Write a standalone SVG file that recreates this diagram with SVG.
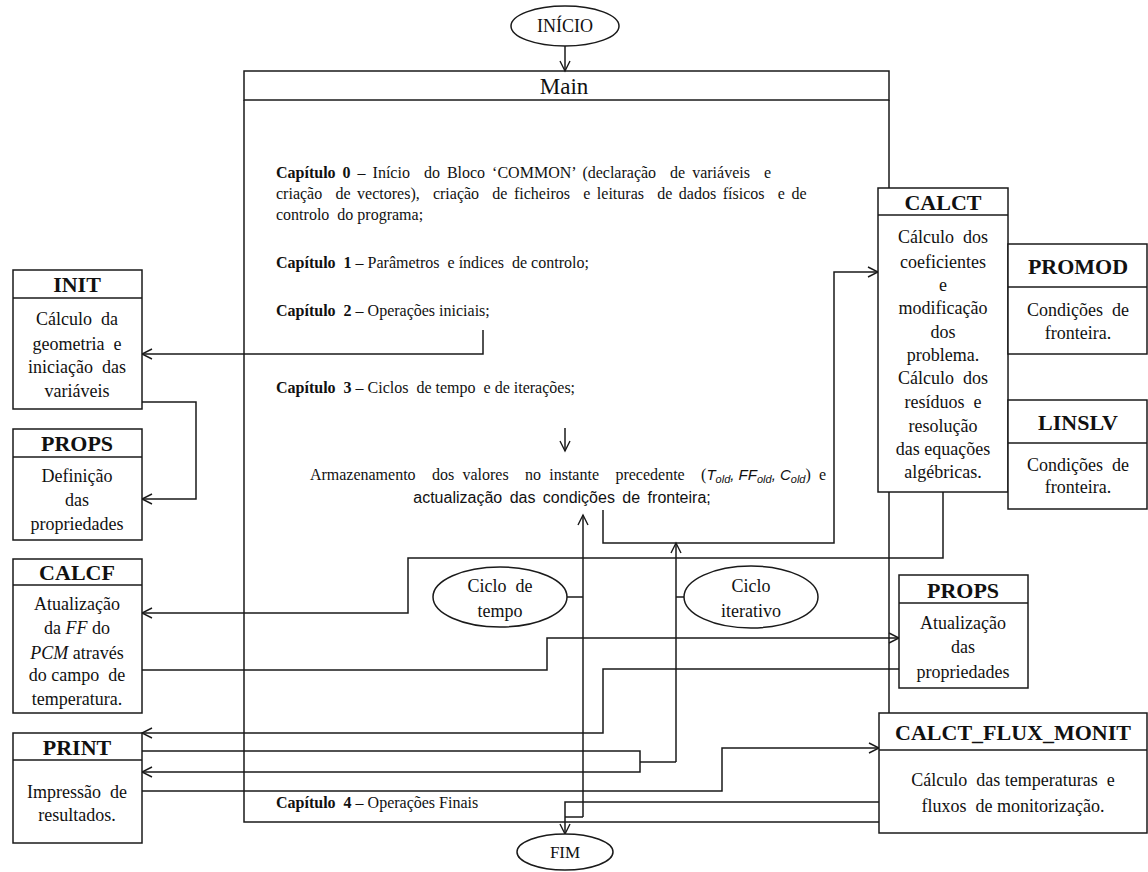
<svg xmlns="http://www.w3.org/2000/svg" width="1148" height="872" viewBox="0 0 1148 872">
<style>
.ln{fill:none;stroke:#1a1a1a;stroke-width:1.5}
.bx{fill:#fff;stroke:#1a1a1a;stroke-width:1.5}
.ti{font-family:"Liberation Serif","Times New Roman",serif;font-weight:bold;font-size:22px;fill:#111;text-anchor:middle}
.b{font-family:"Liberation Serif","Times New Roman",serif;font-size:18px;fill:#111;text-anchor:middle}
.m{font-family:"Liberation Serif","Times New Roman",serif;font-size:16px;fill:#111}
.s{font-family:"Liberation Sans",Arial,sans-serif;font-size:16px;fill:#111}
</style>
<defs>
<marker id="ar" markerWidth="12" markerHeight="12" refX="11" refY="6" orient="auto" markerUnits="userSpaceOnUse" overflow="visible">
<path d="M1,1 L11,6 L1,11" fill="none" stroke="#1a1a1a" stroke-width="1.4"/>
</marker>
</defs>
<rect width="1148" height="872" fill="#fff"/>

<g id="main">
<rect class="bx" x="244" y="71" width="645" height="29"/>
<text x="564" y="94" font-family="Liberation Serif, serif" font-size="23" fill="#111" text-anchor="middle">Main</text>
<path class="ln" d="M244,100 V822 H879 M889,100 V713"/>
<text class="m" x="276" y="178" xml:space="preserve" word-spacing="3"><tspan font-weight="bold">Capítulo 0</tspan> – Início  do Bloco ‘COMMON’ (declaração  de variáveis  e</text>
<text class="m" x="276" y="199" xml:space="preserve" word-spacing="2.6">criação  de vectores),  criação  de ficheiros  e leituras  de dados físicos  e de</text>
<text class="m" x="276" y="220" xml:space="preserve">controlo  do programa;</text>
<text class="m" x="276" y="268" xml:space="preserve"><tspan font-weight="bold">Capítulo  1</tspan> – Parâmetros  e índices  de controlo;</text>
<text class="m" x="276" y="316" xml:space="preserve"><tspan font-weight="bold">Capítulo  2</tspan> – Operações iniciais;</text>
<text class="m" x="276" y="393" xml:space="preserve"><tspan font-weight="bold">Capítulo  3</tspan> – Ciclos  de tempo  e de iterações;</text>
<text class="m" x="568" y="480" xml:space="preserve" font-size="17.5" word-spacing="4.2" text-anchor="middle">Armazenamento  dos valores  no instante  precedente  (<tspan font-family="Liberation Sans, sans-serif" font-style="italic" font-size="15" word-spacing="0">T<tspan font-size="11" dy="3">old</tspan><tspan dy="-3">, FF</tspan><tspan font-size="11" dy="3">old</tspan><tspan dy="-3">, C</tspan><tspan font-size="11" dy="3">old</tspan></tspan><tspan dy="-3">) e</tspan></text>
<text class="s" x="562" y="503" word-spacing="3" text-anchor="middle">actualização das condições de fronteira;</text>
<text class="m" x="276" y="808" xml:space="preserve"><tspan font-weight="bold">Capítulo  4</tspan> – Operações Finais</text>
</g>

<g id="connectors">
<path class="ln" d="M565,46 V71" marker-end="url(#ar)"/>
<path class="ln" d="M565,428 V451" marker-end="url(#ar)"/>
<path class="ln" d="M483,330 V354 H142" marker-end="url(#ar)"/>
<path class="ln" d="M142,402 H196 V499 H142" marker-end="url(#ar)"/>
<path class="ln" d="M603,510 V543 H834 V272 H878" marker-end="url(#ar)"/>
<path class="ln" d="M977,321 H1008" marker-end="url(#ar)"/>
<path class="ln" d="M980,428 H1010" marker-end="url(#ar)"/>
<path class="ln" d="M583,817 V515" marker-end="url(#ar)"/>
<path class="ln" d="M567,597 H583"/>
<path class="ln" d="M676,762 V543" marker-end="url(#ar)"/>
<path class="ln" d="M676,597 H684"/>
<path class="ln" d="M943,492 V558 H408 V613 H142" marker-end="url(#ar)"/>
<path class="ln" d="M142,670 H547 V638 H899" marker-end="url(#ar)"/>
<path class="ln" d="M899,669 H603 V733 H142" marker-end="url(#ar)"/>
<path class="ln" d="M142,751 H640 V772 H142" marker-end="url(#ar)"/>
<path class="ln" d="M676,762 H640"/>
<path class="ln" d="M142,791 H722 V748 H879" marker-end="url(#ar)"/>
<path class="ln" d="M879,802 H565 V834" marker-end="url(#ar)"/>
<path class="ln" d="M583,817 H565"/>
</g>

<g id="inicio">
<ellipse class="bx" cx="565" cy="26" rx="54" ry="20"/>
<text x="565" y="32" font-family="Liberation Serif, serif" font-size="18" fill="#111" text-anchor="middle" textLength="56" lengthAdjust="spacingAndGlyphs">INÍCIO</text>
</g>

<g id="fim">
<ellipse class="bx" cx="565" cy="852" rx="48" ry="18"/>
<text x="565" y="858" font-family="Liberation Serif, serif" font-size="17" fill="#111" text-anchor="middle">FIM</text>
</g>

<g id="init">
<rect class="bx" x="13" y="270" width="129" height="139"/>
<path class="ln" d="M13,298 H142"/>
<text class="ti" x="77" y="292">INIT</text>
<text class="b" x="77" y="325" xml:space="preserve">Cálculo  da</text>
<text class="b" x="77" y="350" xml:space="preserve">geometria  e</text>
<text class="b" x="77" y="373" xml:space="preserve">iniciação  das</text>
<text class="b" x="77" y="397">variáveis</text>
</g>

<g id="props-left">
<rect class="bx" x="13" y="429" width="129" height="111"/>
<path class="ln" d="M13,457 H142"/>
<text class="ti" x="77" y="451">PROPS</text>
<text class="b" x="77" y="482">Definição</text>
<text class="b" x="77" y="506">das</text>
<text class="b" x="77" y="530">propriedades</text>
</g>

<g id="calcf">
<rect class="bx" x="13" y="559" width="129" height="154"/>
<path class="ln" d="M13,585 H142" stroke-width="2.2"/>
<text class="ti" x="77" y="580">CALCF</text>
<text class="b" x="77" y="610">Atualização</text>
<text class="b" x="77" y="634">da <tspan font-style="italic">FF</tspan> do</text>
<text class="b" x="77" y="659"><tspan font-style="italic">PCM</tspan> através</text>
<text class="b" x="77" y="681" xml:space="preserve">do campo  de</text>
<text class="b" x="77" y="705">temperatura.</text>
</g>

<g id="print">
<rect class="bx" x="13" y="733" width="129" height="110"/>
<path class="ln" d="M13,760 H142"/>
<text class="ti" x="77" y="755">PRINT</text>
<text class="b" x="77" y="798" xml:space="preserve">Impressão  de</text>
<text class="b" x="77" y="821">resultados.</text>
</g>

<g id="ciclo-tempo">
<ellipse class="bx" cx="500" cy="597" rx="67" ry="30"/>
<text class="b" x="500" y="592" xml:space="preserve">Ciclo  de</text>
<text class="b" x="500" y="617">tempo</text>
</g>

<g id="ciclo-iterativo">
<ellipse class="bx" cx="751" cy="597" rx="67" ry="31"/>
<text class="b" x="751" y="592">Ciclo</text>
<text class="b" x="751" y="617">iterativo</text>
</g>

<g id="calct">
<rect class="bx" x="878" y="188" width="130" height="304"/>
<path class="ln" d="M878,215 H1008"/>
<text class="ti" x="943" y="210">CALCT</text>
<text class="b" x="943" y="243" xml:space="preserve">Cálculo  dos</text>
<text class="b" x="943" y="268">coeficientes</text>
<text class="b" x="943" y="291">e</text>
<text class="b" x="943" y="314">modificação</text>
<text class="b" x="943" y="338">dos</text>
<text class="b" x="943" y="361">problema.</text>
<text class="b" x="943" y="384" xml:space="preserve">Cálculo  dos</text>
<text class="b" x="943" y="408" xml:space="preserve">resíduos  e</text>
<text class="b" x="943" y="432">resolução</text>
<text class="b" x="943" y="455">das equações</text>
<text class="b" x="943" y="478">algébricas.</text>
</g>

<g id="promod">
<rect class="bx" x="1008" y="244" width="139" height="110"/>
<path class="ln" d="M1008,287 H1147"/>
<text class="ti" x="1078" y="274">PROMOD</text>
<text class="b" x="1078" y="316" xml:space="preserve">Condições  de</text>
<text class="b" x="1078" y="339">fronteira.</text>
</g>

<g id="linslv">
<rect class="bx" x="1008" y="400" width="139" height="109"/>
<path class="ln" d="M1008,443 H1147"/>
<text class="ti" x="1078" y="430">LINSLV</text>
<text class="b" x="1078" y="471" xml:space="preserve">Condições  de</text>
<text class="b" x="1078" y="493">fronteira.</text>
</g>

<g id="props-right">
<rect class="bx" x="899" y="575" width="129" height="113"/>
<path class="ln" d="M899,603 H1028"/>
<text class="ti" x="963" y="598">PROPS</text>
<text class="b" x="963" y="629">Atualização</text>
<text class="b" x="963" y="653">das</text>
<text class="b" x="963" y="678">propriedades</text>
</g>

<g id="calct-flux-monit">
<rect class="bx" x="879" y="713" width="268" height="120"/>
<path class="ln" d="M879,750 H1147"/>
<text class="ti" x="1013" y="740">CALCT_FLUX_MONIT</text>
<text class="b" x="1013" y="786" xml:space="preserve">Cálculo  das temperaturas  e</text>
<text class="b" x="1013" y="812" xml:space="preserve">fluxos  de monitorização.</text>
</g>
</svg>
